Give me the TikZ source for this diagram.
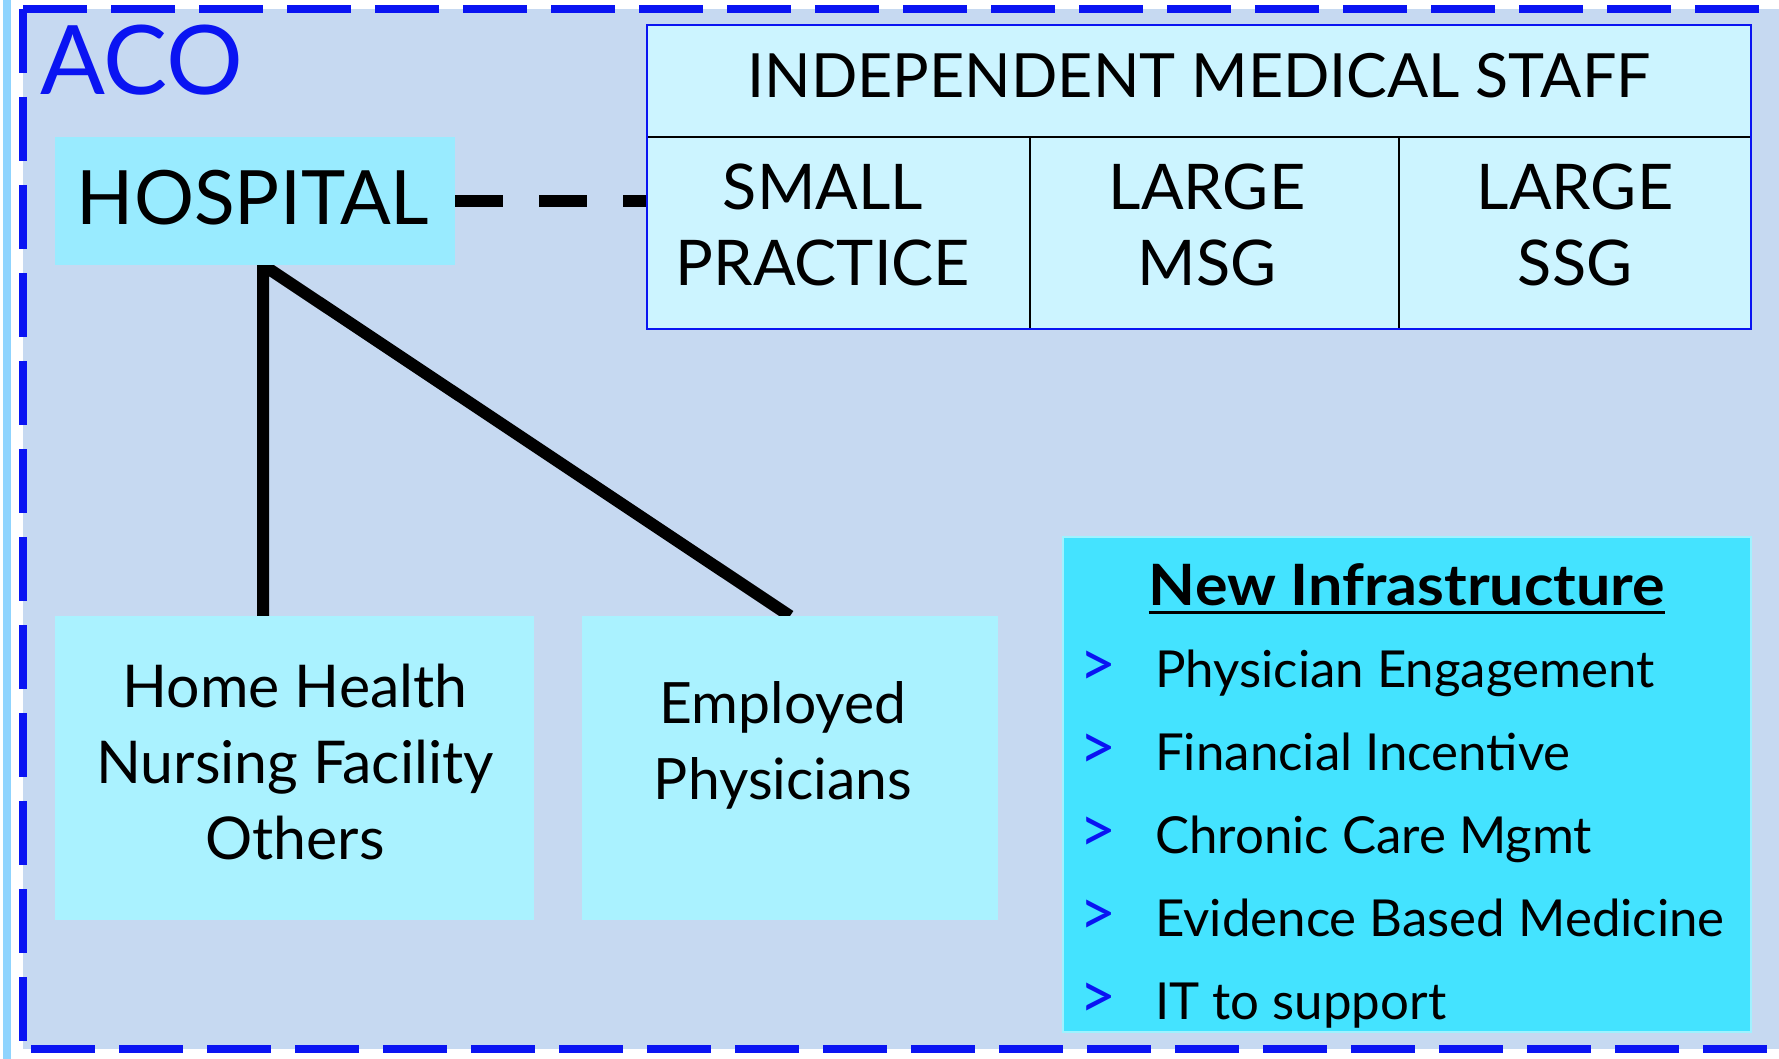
\documentclass[tikz,border=0pt]{standalone}
\usepackage{fontspec}
\setmainfont{Lato}
\newfontfamily\titlefont{Lato}[FakeStretch=1.07]
\usetikzlibrary{calc}
\definecolor{bgc}{HTML}{C6D9F1}
\definecolor{acoblue}{HTML}{0A14F2}
\definecolor{strip}{HTML}{8FD4FE}
\definecolor{hospc}{HTML}{99EBFF}
\definecolor{imsc}{HTML}{CCF4FF}
\definecolor{lowc}{HTML}{AAF2FF}
\definecolor{nic}{HTML}{44E3FF}
\definecolor{niedge}{HTML}{A0F2FF}
\pgfdeclarelayer{bg}
\pgfdeclarelayer{lines}
\pgfsetlayers{bg,lines,main}
\begin{document}
\begin{tikzpicture}[x=1pt,y=-1pt,
  boxnode/.style={inner sep=0pt, outer sep=0pt},
  bigtxt/.style={font=\fontsize{63}{76}\selectfont, align=center, inner sep=0pt},
  lowtxt/.style={align=center, inner sep=0pt},
  itemtxt/.style={font=\fontsize{51}{60}\selectfont, anchor=base west, inner sep=0pt},
  bulletmark/.style={font=\fontsize{64}{70}\selectfont, text=acoblue, anchor=base, inner sep=0pt},
  conn/.style={line width=12pt, line join=miter, black},
  dashconn/.style={line width=12pt, black, dash pattern=on 48pt off 36pt},
  border/.style={line width=8pt, acoblue, dash pattern=on 64pt off 24pt}
]
\useasboundingbox (0,0) rectangle (1779,1059);
\begin{pgfonlayer}{bg}
  \fill[white] (0,0) rectangle (1779,1059);
  \fill[strip] (3,0) rectangle (11,1059);
  \fill[bgc] (23,9) rectangle (1779,1049);
  \draw[border] (23,9) -- (1790,9);
  \draw[border] (23,9) -- (23,1049);
  \draw[border] (31,1049) -- (1790,1049);
\end{pgfonlayer}

% ACO label
\node[text=acoblue, font=\fontsize{96}{100}\selectfont, anchor=base west, inner sep=0pt] (aco) at (40,95) {ACO};

% Hospital
\node[boxnode, fill=hospc, minimum width=400pt, minimum height=128pt] (hosp) at (255,201) {};
\node[font=\fontsize{75}{85}\selectfont, inner sep=0pt] (hosptxt) at (253,198) {HOSPITAL};

% Independent medical staff
\node[boxnode, fill=imsc, draw=black, line width=2pt, minimum width=1104pt, minimum height=112pt] (imstitle) at (1199,81) {};
\node[boxnode, fill=imsc, draw=black, line width=2pt, minimum width=383pt, minimum height=192pt] (small) at (838.5,233) {};
\node[boxnode, fill=imsc, draw=black, line width=2pt, minimum width=369pt, minimum height=192pt] (msg) at (1214.5,233) {};
\node[boxnode, fill=imsc, draw=black, line width=2pt, minimum width=352pt, minimum height=192pt] (ssg) at (1575,233) {};
\draw[acoblue, line width=2pt] (imstitle.north west) rectangle (ssg.south east);
\node[bigtxt, font=\fontsize{61}{76}\selectfont] (imstxt) at (1199,76) {INDEPENDENT MEDICAL STAFF};
\node[bigtxt] (smalltxt) at (823,225) {SMALL\\PRACTICE};
\node[bigtxt] (msgtxt) at (1207,225) {LARGE\\MSG};
\node[bigtxt] (ssgtxt) at (1575,225) {LARGE\\SSG};

% Lower boxes
\node[boxnode, fill=lowc, minimum width=479pt, minimum height=304pt] (box1) at (294.5,768) {};
\node[lowtxt, font=\fontsize{59}{76}\selectfont] (box1txt) at (295,762) {Home Health\\Nursing Facility\\Others};
\node[boxnode, fill=lowc, minimum width=416pt, minimum height=304pt] (box2) at (790,768) {};
\node[lowtxt, font=\fontsize{57}{76}\selectfont] (box2txt) at (783,745) {Employed\\Physicians};

% Connectors
\coordinate (apex) at ($(hosp.south west)!0.52!(hosp.south east)$);
\begin{pgfonlayer}{lines}
  \draw[conn] (box1.north -| apex) -- (apex) -- (box2.north);
  \draw[dashconn] (hosp.east) -- (hosp.east -| small.west);
\end{pgfonlayer}

% New infrastructure
\node[boxnode, fill=nic, draw=niedge, line width=2pt, minimum width=688pt, minimum height=495pt] (ni) at (1407,784.5) {};
\node[font=\titlefont\bfseries\fontsize{57}{66}\selectfont, anchor=base, inner sep=0pt] (nititle) at (1407,605) {New Infrastructure};
\draw[line width=3pt] ($(nititle.base west)+(0,7)$) -- ($(nititle.base east)+(0,7)$);
\node[bulletmark] (b1) at (1098,686) {>};
\node[itemtxt] (i1) at (1155,687) {Physician Engagement};
\node[bulletmark] (b2) at (1098,769) {>};
\node[itemtxt] (i2) at (1155,770) {Financial Incentive};
\node[bulletmark] (b3) at (1098,852) {>};
\node[itemtxt] (i3) at (1155,853) {Chronic Care Mgmt};
\node[bulletmark] (b4) at (1098,935) {>};
\node[itemtxt] (i4) at (1155,936) {Evidence Based Medicine};
\node[bulletmark] (b5) at (1098,1018) {>};
\node[itemtxt] (i5) at (1155,1019) {IT to support};
\end{tikzpicture}
\end{document}
